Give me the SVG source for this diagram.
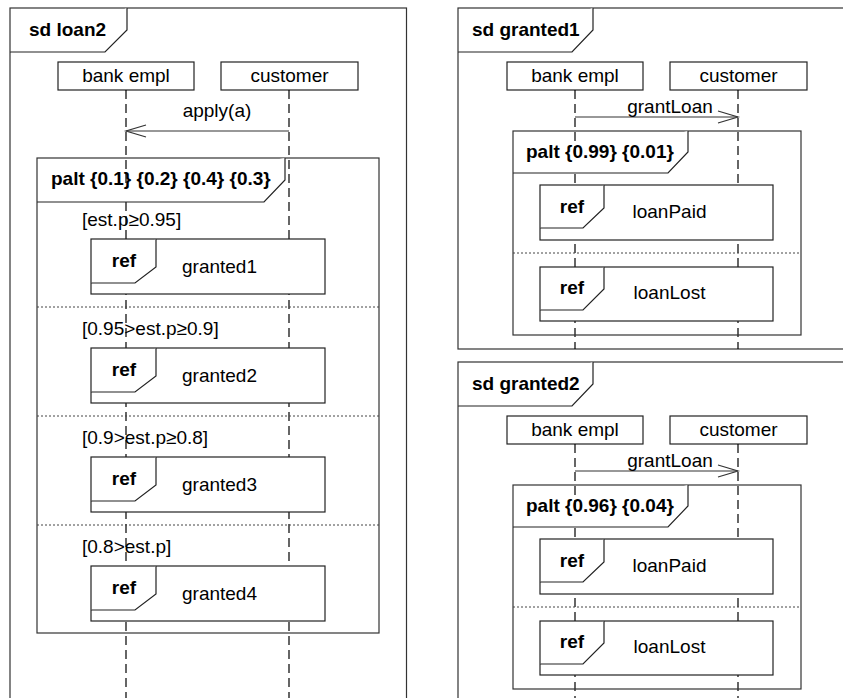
<svg xmlns="http://www.w3.org/2000/svg" width="843" height="698" viewBox="0 0 843 698">
<style>
text{font-family:"Liberation Sans",Arial,sans-serif;font-size:19px;fill:#000}
.b{font-weight:bold}
.m{text-anchor:middle}
.frame{fill:#fff;stroke:#333;stroke-width:1.2}
.box{fill:#fff;stroke:#222;stroke-width:1.2}
.tab{fill:#fff;stroke:#222;stroke-width:1.2}
.frag{fill:none;stroke:#333;stroke-width:1.2}
.ll{stroke:#000;stroke-width:1.2;stroke-dasharray:9,5;fill:none}
.sep{stroke:#444;stroke-width:1;stroke-dasharray:2,2;fill:none}
.msg{stroke:#333;stroke-width:1.2;fill:none;marker-end:url(#open)}
</style>
<defs>
<marker id="open" markerUnits="userSpaceOnUse" markerWidth="22" markerHeight="14" refX="20" refY="6" orient="auto" overflow="visible">
<path d="M0,0 L20,6 L0,12" fill="none" stroke="#333" stroke-width="1.2"/>
</marker>
</defs>

<!-- ===== sd loan2 ===== -->
<g id="frame-loan2">
<rect class="frame" x="10" y="8" width="396.5" height="720"/>
<path class="tab" d="M10,52 H105 L127,30 V8"/>
<text class="b" x="29" y="36">sd loan2</text>
</g>
<g id="loan2-lifeline-bank">
<rect class="box" x="58" y="62" width="136" height="28"/>
<text class="m" x="126" y="82">bank empl</text>
<line class="ll" x1="126" y1="90" x2="126" y2="698"/>
</g>
<g id="loan2-lifeline-customer">
<rect class="box" x="221" y="62" width="137" height="28"/>
<text class="m" x="289.5" y="82">customer</text>
<line class="ll" x1="289" y1="90" x2="289" y2="698"/>
</g>
<g id="loan2-palt">
<rect class="frag" x="37" y="158" width="342" height="475"/>
<path class="tab" d="M37,202 H264 L285,180 V158"/>
<text class="b" x="51" y="185">palt {0.1} {0.2} {0.4} {0.3}</text>
<line class="sep" x1="37" y1="307" x2="379" y2="307"/>
<line class="sep" x1="37" y1="416" x2="379" y2="416"/>
<line class="sep" x1="37" y1="525" x2="379" y2="525"/>
<text x="82" y="226">[est.p≥0.95]</text>
<text x="82" y="335">[0.95&gt;est.p≥0.9]</text>
<text x="82" y="444">[0.9&gt;est.p≥0.8]</text>
<text x="82" y="553">[0.8&gt;est.p]</text>
</g>
<g id="ref-granted1">
<rect class="box" x="91" y="239" width="234" height="55"/>
<path class="tab" d="M91,283 H135 L156,267 V239"/>
<text class="b m" x="124" y="267">ref</text>
<text class="m" x="219.5" y="273">granted1</text>
</g>
<g id="ref-granted2">
<rect class="box" x="91" y="348" width="234" height="55"/>
<path class="tab" d="M91,392 H135 L156,376 V348"/>
<text class="b m" x="124" y="376">ref</text>
<text class="m" x="219.5" y="382">granted2</text>
</g>
<g id="ref-granted3">
<rect class="box" x="91" y="457" width="234" height="55"/>
<path class="tab" d="M91,501 H135 L156,485 V457"/>
<text class="b m" x="124" y="485">ref</text>
<text class="m" x="219.5" y="491">granted3</text>
</g>
<g id="ref-granted4">
<rect class="box" x="91" y="566" width="234" height="55"/>
<path class="tab" d="M91,610 H135 L156,594 V566"/>
<text class="b m" x="124" y="594">ref</text>
<text class="m" x="219.5" y="600">granted4</text>
</g>

<!-- ===== sd granted1 ===== -->
<g id="frame-granted1">
<rect class="frame" x="458" y="8" width="420" height="341"/>
<path class="tab" d="M458,52 H572 L593,30 V8"/>
<text class="b" x="472" y="36">sd granted1</text>
</g>
<g id="g1-lifeline-bank">
<rect class="box" x="507" y="62" width="136" height="28"/>
<text class="m" x="575" y="82">bank empl</text>
<line class="ll" x1="575" y1="90" x2="575" y2="349"/>
</g>
<g id="g1-lifeline-customer">
<rect class="box" x="670" y="62" width="137" height="28"/>
<text class="m" x="738.5" y="82">customer</text>
<line class="ll" x1="738" y1="90" x2="738" y2="349"/>
</g>
<g id="g1-palt">
<rect class="frag" x="513" y="131" width="288" height="204"/>
<path class="tab" d="M513,173 H668 L688,152 V131"/>
<text class="b" x="526" y="158">palt {0.99} {0.01}</text>
<line class="sep" x1="513" y1="253" x2="801" y2="253"/>
</g>
<g id="g1-ref-loanPaid">
<rect class="box" x="540" y="185" width="233" height="55"/>
<path class="tab" d="M540,228 H583 L604,208 V185"/>
<text class="b m" x="572" y="213">ref</text>
<text class="m" x="669.5" y="218">loanPaid</text>
</g>
<g id="g1-ref-loanLost">
<rect class="box" x="540" y="267" width="233" height="54"/>
<path class="tab" d="M540,310 H583 L604,289 V267"/>
<text class="b m" x="572" y="294">ref</text>
<text class="m" x="669.5" y="299">loanLost</text>
</g>

<!-- ===== sd granted2 ===== -->
<g id="frame-granted2">
<rect class="frame" x="458" y="362" width="420" height="400"/>
<path class="tab" d="M458,406 H572 L593,384 V362"/>
<text class="b" x="472" y="390">sd granted2</text>
</g>
<g id="g2-lifeline-bank">
<rect class="box" x="507" y="416" width="136" height="28"/>
<text class="m" x="575" y="436">bank empl</text>
<line class="ll" x1="575" y1="444" x2="575" y2="698"/>
</g>
<g id="g2-lifeline-customer">
<rect class="box" x="670" y="416" width="137" height="28"/>
<text class="m" x="738.5" y="436">customer</text>
<line class="ll" x1="738" y1="444" x2="738" y2="698"/>
</g>
<g id="g2-palt">
<rect class="frag" x="513" y="485" width="288" height="204"/>
<path class="tab" d="M513,527 H668 L688,506 V485"/>
<text class="b" x="526" y="512">palt {0.96} {0.04}</text>
<line class="sep" x1="513" y1="607" x2="801" y2="607"/>
</g>
<g id="g2-ref-loanPaid">
<rect class="box" x="540" y="539" width="233" height="55"/>
<path class="tab" d="M540,582 H583 L604,562 V539"/>
<text class="b m" x="572" y="567">ref</text>
<text class="m" x="669.5" y="572">loanPaid</text>
</g>
<g id="g2-ref-loanLost">
<rect class="box" x="540" y="621" width="233" height="54"/>
<path class="tab" d="M540,664 H583 L604,643 V621"/>
<text class="b m" x="572" y="648">ref</text>
<text class="m" x="669.5" y="653">loanLost</text>
</g>

<!-- ===== messages ===== -->
<g id="connectors">
<line class="msg" x1="289" y1="131" x2="126" y2="131"/>
<text class="m" x="217" y="117">apply(a)</text>
<line class="msg" x1="575" y1="117" x2="738" y2="117"/>
<text class="m" x="670" y="113">grantLoan</text>
<line class="msg" x1="575" y1="471" x2="738" y2="471"/>
<text class="m" x="670" y="467">grantLoan</text>
</g>
</svg>
